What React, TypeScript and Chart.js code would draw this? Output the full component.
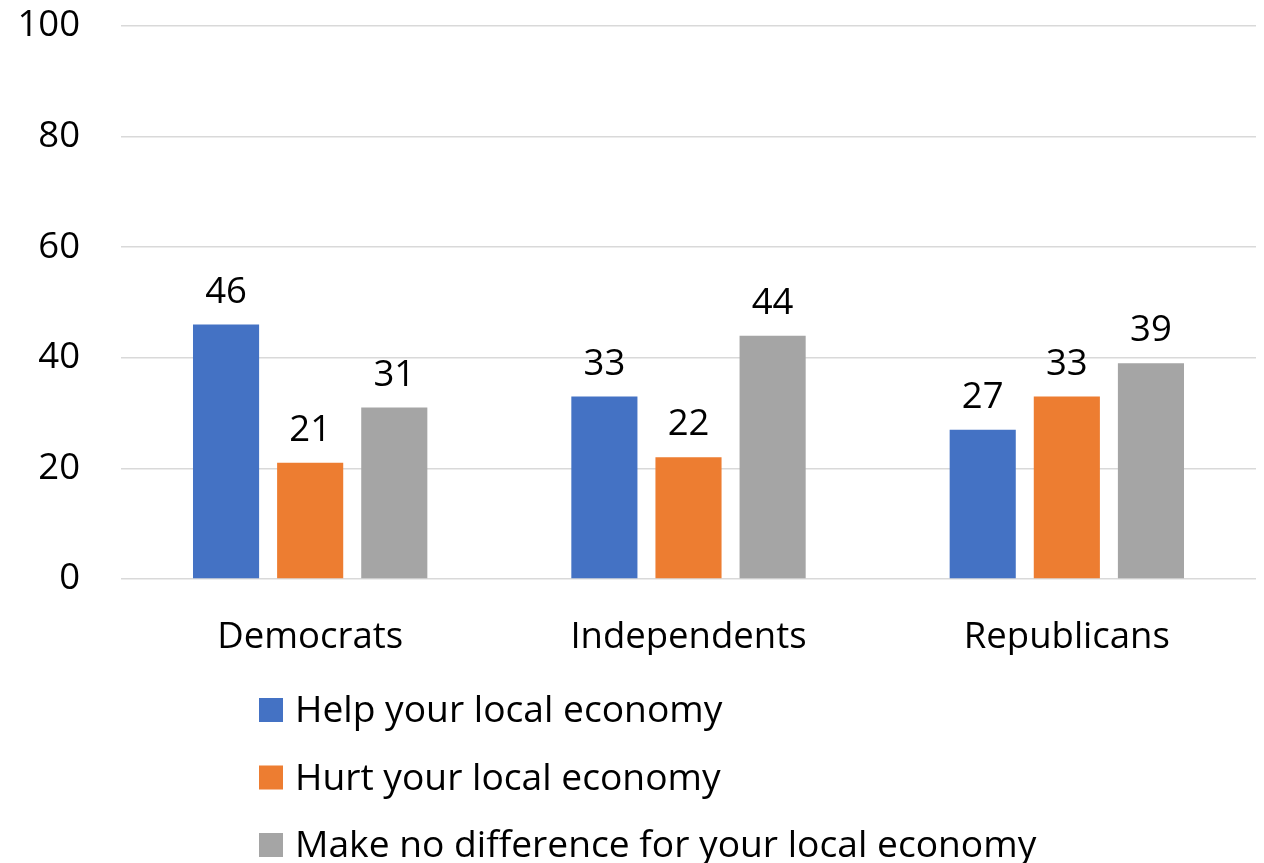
import React, { useEffect, useRef } from "react";
import { Chart, registerables } from "chart.js";

Chart.register(...registerables);

const categories = ["Democrats", "Independents", "Republicans"];
const seriesNames = [
  "Help your local economy",
  "Hurt your local economy",
  "Make no difference for your local economy",
];
const helpValues = [46, 33, 27];
const hurtValues = [21, 22, 33];
const noDiffValues = [31, 44, 39];
const seriesColors = ["#4472C4", "#ED7D31", "#A5A5A5"];
const yTicks = [0, 20, 40, 60, 80, 100];

const FONT = "'Open Sans', 'DejaVu Sans', sans-serif";
const FONT_SIZE = 36.5;
const LEGEND_FONT_SIZE = 37.2;

const valueLabelPlugin = {
  id: "valueLabels",
  afterDatasetsDraw(chart: any) {
    const ctx = chart.ctx;
    ctx.save();
    ctx.font = `${FONT_SIZE}px ${FONT}`;
    ctx.fillStyle = "#000";
    ctx.textAlign = "center";
    ctx.textBaseline = "alphabetic";
    chart.data.datasets.forEach((ds: any, di: number) => {
      const meta = chart.getDatasetMeta(di);
      meta.data.forEach((bar: any, i: number) => {
        ctx.fillText(String(ds.data[i]), bar.x, bar.y - 22);
      });
    });
    ctx.restore();
  },
};

const verticalLegendPlugin = {
  id: "verticalLegend",
  afterDraw(chart: any) {
    const ctx = chart.ctx;
    const boxX = 259;
    const boxSize = 24;
    const textX = 295;
    const firstY = 710;
    const step = 67.5;
    ctx.save();
    ctx.font = `${LEGEND_FONT_SIZE}px ${FONT}`;
    ctx.textAlign = "left";
    ctx.textBaseline = "alphabetic";
    chart.data.datasets.forEach((ds: any, i: number) => {
      const cy = firstY + i * step;
      ctx.fillStyle = ds.backgroundColor;
      ctx.fillRect(boxX, cy - boxSize / 2, boxSize, boxSize);
      ctx.fillStyle = "#000";
      ctx.fillText(ds.label, textX, cy + 12);
    });
    ctx.restore();
  },
};

export default function App() {
  const canvasRef = useRef<HTMLCanvasElement | null>(null);

  useEffect(() => {
    document.body.style.margin = "0";
    document.body.style.overflow = "hidden";
    const canvas = canvasRef.current;
    if (!canvas) return;
    const valueSets = [helpValues, hurtValues, noDiffValues];
    const chart = new Chart(canvas, {
      type: "bar",
      data: {
        labels: categories,
        datasets: seriesNames.map((name, i) => ({
          label: name,
          data: valueSets[i],
          backgroundColor: seriesColors[i],
          borderWidth: 0,
          categoryPercentage: 0.667,
          barPercentage: 0.786,
        })),
      },
      options: {
        animation: false,
        responsive: false,
        maintainAspectRatio: false,
        layout: { padding: { top: 26, right: 8, bottom: 208, left: 0 } },
        plugins: {
          legend: { display: false },
          tooltip: { enabled: false },
        },
        scales: {
          x: {
            afterFit(scale: any) {
              scale.height = 76;
            },
            grid: { display: false, drawTicks: false },
            border: { display: false },
            ticks: {
              color: "#000",
              padding: 37,
              font: { family: FONT, size: FONT_SIZE },
            },
          },
          y: {
            min: 0,
            max: 100,
            afterFit(scale: any) {
              scale.width = 121;
              scale.paddingTop = 10;
              scale.paddingBottom = 10;
            },
            afterBuildTicks(scale: any) {
              scale.ticks = yTicks.map((v) => ({ value: v }));
            },
            grid: { color: "#D9D9D9", lineWidth: 1.5, drawTicks: false },
            border: { display: false },
            ticks: {
              color: "#000",
              padding: 41,
              font: { family: FONT, size: FONT_SIZE },
            },
          },
        },
      },
      plugins: [valueLabelPlugin, verticalLegendPlugin],
    });
    return () => chart.destroy();
  }, []);

  return (
    <div style={{ width: 1264, height: 863 }}>
      <canvas ref={canvasRef} width={1264} height={863} style={{ display: "block" }} />
    </div>
  );
}
